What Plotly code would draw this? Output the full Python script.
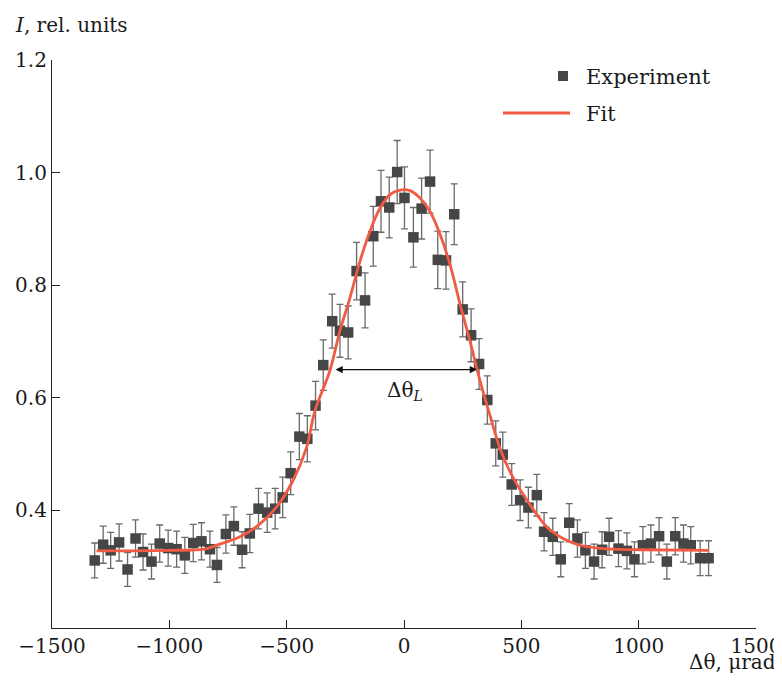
import plotly.graph_objects as go

# Experimental points (Δθ in µrad, intensity in rel. units, error)
theta = [-1318, -1282, -1250, -1214, -1178, -1144, -1112, -1076, -1041, -1005,
         -969, -934, -898, -863, -827, -797, -759, -725, -690, -657,
         -620, -583, -549, -517, -483, -446, -412, -377, -344, -306,
         -273, -238, -202, -166, -131, -98, -63, -29, 2, 40,
         75, 111, 144, 179, 214, 250, 286, 320, 355, 391,
         421, 459, 495, 530, 566, 597, 634, 668, 704, 739,
         773, 810, 844, 874, 914, 950, 982, 1018, 1052, 1087,
         1120, 1156, 1191, 1222, 1262, 1298]
intensity = [0.311, 0.339, 0.329, 0.343, 0.295, 0.350, 0.326, 0.309, 0.341, 0.333,
             0.331, 0.320, 0.342, 0.345, 0.331, 0.303, 0.358, 0.372, 0.330, 0.359,
             0.403, 0.396, 0.403, 0.423, 0.466, 0.531, 0.527, 0.586, 0.658, 0.736,
             0.719, 0.716, 0.825, 0.773, 0.887, 0.949, 0.938, 1.001, 0.955, 0.885,
             0.936, 0.984, 0.845, 0.844, 0.926, 0.757, 0.711, 0.660, 0.596, 0.519,
             0.499, 0.446, 0.418, 0.405, 0.427, 0.362, 0.353, 0.313, 0.378, 0.350,
             0.329, 0.309, 0.330, 0.353, 0.332, 0.328, 0.313, 0.338, 0.341, 0.354,
             0.309, 0.354, 0.341, 0.338, 0.315, 0.315]
errors = [0.031, 0.033, 0.032, 0.033, 0.030, 0.033, 0.032, 0.031, 0.033, 0.032,
          0.032, 0.032, 0.033, 0.033, 0.032, 0.031, 0.034, 0.034, 0.032, 0.034,
          0.036, 0.035, 0.036, 0.036, 0.038, 0.041, 0.041, 0.043, 0.045, 0.048,
          0.047, 0.047, 0.051, 0.049, 0.053, 0.055, 0.054, 0.056, 0.055, 0.053,
          0.054, 0.056, 0.051, 0.051, 0.054, 0.049, 0.047, 0.045, 0.043, 0.040,
          0.040, 0.037, 0.036, 0.036, 0.037, 0.034, 0.033, 0.031, 0.034, 0.033,
          0.032, 0.031, 0.032, 0.033, 0.032, 0.032, 0.031, 0.033, 0.033, 0.033,
          0.031, 0.033, 0.033, 0.033, 0.031, 0.031]

# Fit curve
fit_theta = [-1310, -1000, -850, -785, -699, -614, -543, -473, -415, -380,
             -316, -273, -230, -188, -145, -102, -60, -17, 26, 68,
             111, 154, 196, 239, 281, 324, 367, 409, 465, 537,
             610, 678, 750, 823, 891, 1000, 1300]
fit_int = [0.328, 0.329, 0.331, 0.340, 0.353, 0.376, 0.406, 0.453, 0.512, 0.576,
           0.648, 0.719, 0.778, 0.842, 0.896, 0.937, 0.961, 0.969, 0.968, 0.955,
           0.931, 0.890, 0.837, 0.766, 0.701, 0.630, 0.568, 0.510, 0.458, 0.410,
           0.370, 0.350, 0.338, 0.333, 0.331, 0.330, 0.329]

fwhm_left, fwhm_right, fwhm_level = -311, 311, 0.650

x_ticks = [-1500, -1000, -500, 0, 500, 1000, 1500]
y_ticks = [0.4, 0.6, 0.8, 1.0, 1.2]

FONT = "DejaVu Serif"
TXT = "#1a1a1a"
MARK = "#464646"
ERR = "#6a6a6a"
FIT = "#f25a43"

fig = go.Figure()
fig.add_trace(go.Scatter(
    x=theta, y=intensity, mode="markers", name="Experiment",
    marker=dict(symbol="square", size=10.5, color=MARK),
    error_y=dict(type="data", array=errors, visible=True, color=ERR,
                 thickness=1.3, width=3.5),
    showlegend=False))
fig.add_trace(go.Scatter(
    x=fit_theta, y=fit_int, mode="lines", name="Fit",
    line=dict(color=FIT, width=2.8, shape="spline", smoothing=1.0),
    showlegend=False))

# page body has an 8px margin: work in page pixels, subtract the offset
OFF = 8
W, H = 782 - OFF, 684 - 2 * OFF
L, T = 52 - OFF, 60 - OFF
R = W - (756 - OFF)
B = H - (628 - OFF)
pw, ph = W - L - R, H - T - B


def px(xp):
    return (xp - OFF - L) / pw


def py(yp):
    return (H - B - (yp - OFF)) / ph


shapes = [
    # legend: square marker
    dict(type="rect", xref="paper", yref="paper",
         x0=px(558), x1=px(568), y0=py(81), y1=py(71),
         fillcolor=MARK, line=dict(width=0)),
    # legend: fit line
    dict(type="line", xref="paper", yref="paper",
         x0=px(503), x1=px(570), y0=py(113), y1=py(113),
         line=dict(color=FIT, width=2.8)),
]

annotations = [
    dict(text="Experiment", xref="paper", yref="paper", x=px(584), y=py(77),
         xanchor="left", yanchor="middle", showarrow=False,
         font=dict(family=FONT, size=21, color=TXT)),
    dict(text="Fit", xref="paper", yref="paper", x=px(584), y=py(114),
         xanchor="left", yanchor="middle", showarrow=False,
         font=dict(family=FONT, size=21, color=TXT)),
    dict(text="<i>I</i>, rel. units", xref="paper", yref="paper", x=px(13), y=py(25),
         xanchor="left", yanchor="middle", showarrow=False,
         font=dict(family=FONT, size=20, color=TXT)),
    dict(text="Δθ, μrad", xref="paper", yref="paper", x=px(778), y=py(662),
         xanchor="right", yanchor="middle", showarrow=False,
         font=dict(family=FONT, size=20, color=TXT)),
    dict(text="Δθ<sub><i>L</i></sub>", x=4, y=0.612, xref="x", yref="y",
         showarrow=False, font=dict(family=FONT, size=20, color=TXT)),
    dict(x=fwhm_right, y=fwhm_level, ax=fwhm_left, ay=fwhm_level,
         xref="x", yref="y", axref="x", ayref="y", text=" ",
         showarrow=True, arrowhead=2, arrowside="end+start",
         arrowsize=1.2, arrowwidth=1.2, arrowcolor="#111111",
         startarrowhead=2, startarrowsize=1.2),
]

fig.update_layout(
    width=W, height=H,
    margin=dict(l=L, r=R, t=T, b=B, autoexpand=False),
    paper_bgcolor="white", plot_bgcolor="white",
    font=dict(family=FONT, size=20, color=TXT),
    shapes=shapes, annotations=annotations,
    xaxis=dict(range=[-1500, 1500], tickvals=x_ticks, automargin=False,
               ticks="inside", ticklen=8, tickwidth=1, tickcolor="#222",
               showline=True, linecolor="#222", linewidth=1.2,
               showgrid=False, zeroline=False, mirror=False,
               tickfont=dict(family=FONT, size=20, color=TXT)),
    yaxis=dict(range=[0.191, 1.2], tickvals=y_ticks, tickformat=".1f",
               automargin=False,
               ticks="inside", ticklen=8, tickwidth=1, tickcolor="#222",
               showline=True, linecolor="#222", linewidth=1.2,
               showgrid=False, zeroline=False, mirror=False,
               tickfont=dict(family=FONT, size=20, color=TXT)),
)

fig.write_html("out.html")
